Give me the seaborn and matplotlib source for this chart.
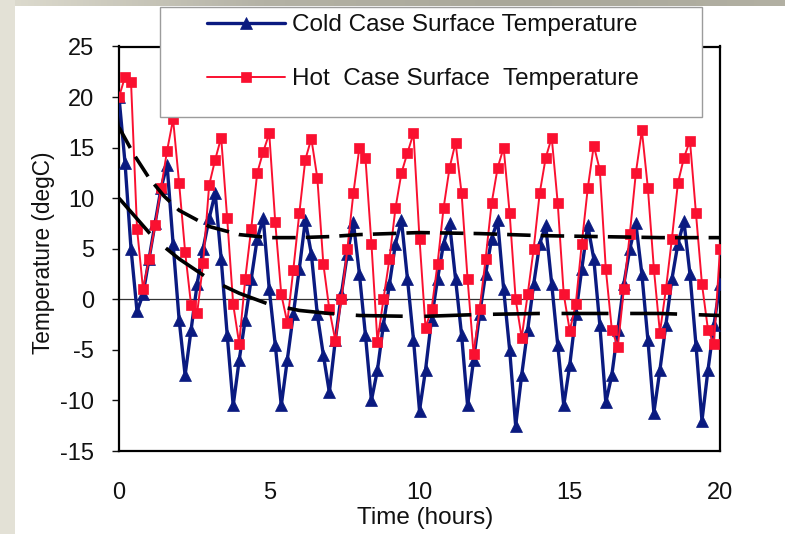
import numpy as np
import matplotlib
matplotlib.use("Agg")
import matplotlib.pyplot as plt
import matplotlib.patches as mpatches
from matplotlib.colors import LinearSegmentedColormap
import seaborn as sns

# Zeitachse in Stunden, ein Messpunkt alle 0.2 h (letzter Punkt liegt hinter dem Rand)
time_h = np.round(np.arange(102) * 0.2, 1)

# Oberflaechentemperatur Kaltfall (degC)
cold_surface = [
    20.0, 13.5, 5.0, -1.2, 0.5, 4.0, 7.5, 11.0, 13.3, 5.5,
    -2.0, -7.5, -3.0, 1.5, 5.0, 8.0, 10.5, 4.0, -3.5, -10.5,
    -6.0, -2.0, 2.0, 6.0, 8.0, 1.0, -4.5, -10.5, -6.0, -1.5,
    3.0, 7.8, 4.5, -1.5, -5.5, -9.2, -4.0, 0.5, 4.5, 7.6,
    2.5, -3.5, -10.0, -7.0, -2.5, 1.5, 5.5, 7.8, 2.0, -4.0,
    -11.0, -7.0, -2.0, 2.0, 5.5, 7.5, 2.0, -3.5, -10.5, -6.0,
    -1.5, 2.5, 6.0, 7.8, 1.0, -5.0, -12.5, -7.5, -3.0, 1.5,
    5.5, 7.3, 1.5, -4.5, -10.5, -6.5, -1.5, 3.0, 7.3, 4.0,
    -2.5, -10.2, -7.5, -3.0, 1.5, 5.0, 7.5, 2.5, -4.0, -11.2,
    -7.0, -2.5, 2.0, 5.5, 7.7, 2.5, -4.5, -12.0, -7.0, -2.5,
    1.5, 5.0,
]

# Oberflaechentemperatur Heissfall (degC)
hot_surface = [
    20.0, 22.0, 21.5, 7.0, 1.0, 4.0, 7.3, 11.0, 14.7, 17.8,
    11.5, 4.7, -0.6, -1.4, 3.6, 11.3, 13.8, 16.0, 8.0, -0.5,
    -4.4, 2.0, 7.0, 12.5, 14.6, 16.4, 7.6, 0.5, -2.3, 2.9,
    8.5, 13.8, 15.9, 12.0, 3.5, -1.0, -4.1, 0.0, 5.0, 10.5,
    15.0, 14.0, 5.5, -4.2, 0.0, 4.0, 9.0, 12.5, 14.5, 16.4,
    6.0, -2.8, -1.0, 3.5, 9.0, 13.0, 15.5, 10.5, 2.0, -5.4,
    -1.0, 4.0, 9.5, 13.0, 15.0, 8.5, 0.0, -3.8, 0.5, 5.0,
    10.5, 14.0, 16.0, 9.5, 0.5, -3.1, -0.5, 5.5, 11.0, 15.2,
    12.8, 3.0, -3.0, -4.7, 1.0, 6.5, 12.5, 16.7, 11.0, 3.0,
    -3.3, 1.0, 6.0, 11.5, 14.0, 15.7, 8.5, 1.5, -3.0, -4.4,
    5.0, 10.0,
]

# gestrichelte Mittelwert-Kurven
mean_time_h = [0, 0.5, 1, 1.5, 2, 3, 4, 5, 6, 7, 8, 10, 12, 14, 16, 18, 20]
hot_mean = [17.0, 14.3, 12.0, 10.2, 8.8, 7.2, 6.4, 6.1, 6.1, 6.2, 6.4, 6.6, 6.5, 6.3, 6.2, 6.1, 6.1]
cold_mean = [10.0, 8.3, 6.6, 5.2, 4.0, 2.0, 0.6, -0.5, -1.1, -1.4, -1.6, -1.7, -1.5, -1.4, -1.4, -1.4, -1.6]

x_ticks = [0, 5, 10, 15, 20]
y_ticks = [-15, -10, -5, 0, 5, 10, 15, 20, 25]

FONT = ["Liberation Sans", "DejaVu Sans"]

sns.set_style("white")
plt.rcParams["font.family"] = FONT
plt.rcParams["axes.unicode_minus"] = False

W, H = 785, 534
fig = plt.figure(figsize=(W / 100, H / 100), dpi=100)
fig.patch.set_facecolor("white")

# grauer Folienrand links und oben
fig.patches.append(mpatches.Rectangle((0, 0), 15 / W, 1, transform=fig.transFigure,
                                      facecolor="#E3E1D6", edgecolor="none", zorder=0))
gax = fig.add_axes([0, 1 - 6 / H, 1, 6 / H])
grad_cmap = LinearSegmentedColormap.from_list("rand", ["#DEDCD0", "#B4B2A5", "#A9A799", "#B2B0A3"])
gax.imshow(np.linspace(0, 1, 256)[None, :], aspect="auto", cmap=grad_cmap)
gax.axis("off")

ax = fig.add_axes([119 / W, 1 - 451 / H, 601 / W, 404.5 / H])
ax.set_facecolor("white")

ax.axhline(0, color="#333333", lw=0.9, zorder=1.5)

sns.lineplot(x=time_h, y=cold_surface, ax=ax, color="#0A1A80", lw=2.4, marker="^",
             markersize=8, markeredgecolor="#0A1A80", markeredgewidth=0.5,
             legend=False, zorder=3)
cold_line = ax.lines[-1]

sns.lineplot(x=time_h, y=hot_surface, ax=ax, color="#FA1030", lw=1.4, marker="s",
             markersize=6.5, markeredgecolor="#FA1030", markeredgewidth=0.5,
             legend=False, zorder=4)
hot_line = ax.lines[-1]

sns.lineplot(x=mean_time_h, y=hot_mean, ax=ax, color="black", lw=2.6,
             linestyle=(0, (6.5, 2.8)), legend=False, zorder=5)
sns.lineplot(x=mean_time_h, y=cold_mean, ax=ax, color="black", lw=2.6,
             linestyle=(0, (13.0, 6.0)), legend=False, zorder=5)

ax.set_xlim(0, 20)
ax.set_ylim(-15, 25)
ax.set_xticks(x_ticks)
ax.set_yticks(y_ticks)
ax.tick_params(axis="x", length=0, pad=22, labelsize=17, colors="#111111")
ax.tick_params(axis="y", direction="out", length=5, width=1, pad=13, labelsize=17,
               colors="#111111", left=True)

for sp in ax.spines.values():
    sp.set_color("black")
    sp.set_linewidth(1.6)

ax.set_xlabel("Time (hours)", fontsize=17.5, color="#111111")
ax.xaxis.set_label_coords(0.51, -0.138)
ax.set_ylabel("Temperature (degC)", fontsize=16.3, color="#111111")
ax.yaxis.set_label_coords(-0.107, 0.49)

# Legendenkasten wie im Original
fig.patches.append(mpatches.Rectangle((160 / W, 1 - 117 / H), 542 / W, 110 / H,
                                      transform=fig.transFigure, facecolor="white",
                                      edgecolor="#9C9C9C", lw=1.0, zorder=3))
leg = fig.legend([cold_line, hot_line],
                 ["Cold Case Surface Temperature", "Hot  Case Surface  Temperature"],
                 loc="upper left", bbox_to_anchor=(207 / W, 1 - 14 / H),
                 bbox_transform=fig.transFigure, frameon=False, borderpad=0,
                 borderaxespad=0, handlelength=3.2, handletextpad=0.3,
                 labelspacing=1.33, fontsize=17.5, numpoints=1)
leg.set_zorder(6)
for t in leg.get_texts():
    t.set_color("#111111")

fig.savefig("out.png", dpi=100)
